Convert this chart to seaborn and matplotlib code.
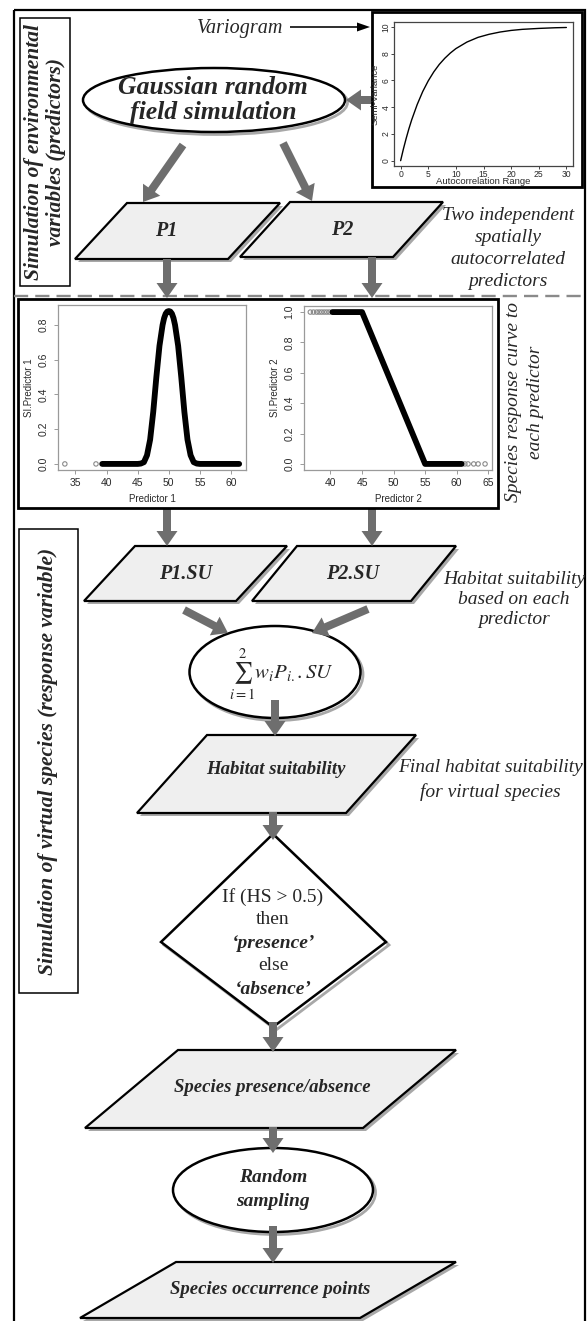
import matplotlib
matplotlib.use("Agg")
import matplotlib.pyplot as plt
import seaborn as sns
from matplotlib.patches import Polygon, Ellipse, Rectangle, FancyArrow

# ---------------- data ----------------
vario_range = [0, 0.5, 1, 1.5, 2, 3, 4, 5, 6, 7, 8, 9, 10, 12, 14, 16, 18, 20, 22, 25, 28, 30]
vario_semivar = [0, 0.87, 1.66, 2.39, 3.05, 4.2, 5.17, 5.97, 6.64, 7.2, 7.66, 8.05, 8.38,
                 8.87, 9.22, 9.45, 9.62, 9.74, 9.82, 9.89, 9.94, 9.96]
vario_xticks = [0, 5, 10, 15, 20, 25, 30]
vario_yticks = [0, 2, 4, 6, 8, 10]

pred1_x = [39.3, 40, 42, 44, 45, 45.5, 46, 46.5, 47, 47.5, 48, 48.5, 49, 49.25, 49.5, 49.75, 50,
           50.25, 50.5, 50.75, 51, 51.5, 52, 52.5, 53, 53.5, 54, 54.5, 55, 57, 59, 61.3]
pred1_si = [0, 0, 0, 0, 0, 0.002, 0.01, 0.05, 0.14, 0.3, 0.5, 0.68, 0.8, 0.84, 0.865, 0.877, 0.88,
            0.877, 0.865, 0.84, 0.8, 0.68, 0.5, 0.3, 0.14, 0.05, 0.01, 0.002, 0, 0, 0, 0]
pred1_out_x = [33.3, 38.3]
pred1_out_si = [0.0, 0.0]
pred1_xticks = [35, 40, 45, 50, 55, 60]
pred1_yticks = [0.0, 0.2, 0.4, 0.6, 0.8]

pred2_x = [40.3, 45.0, 55.0, 60.8]
pred2_si = [1.0, 1.0, 0.0, 0.0]
pred2_out_x = [36.8, 37.3, 37.8, 38.2, 38.6, 39.0, 39.4, 39.8, 61.3, 61.8, 62.7, 63.4, 64.5]
pred2_out_si = [1, 1, 1, 1, 1, 1, 1, 1, 0, 0, 0, 0, 0]
pred2_xticks = [40, 45, 50, 55, 60, 65]
pred2_yticks = [0.0, 0.2, 0.4, 0.6, 0.8, 1.0]

# ---------------- setup ----------------
sns.set_style("white")
plt.rcParams['font.family'] = ['Liberation Serif', 'DejaVu Serif']
plt.rcParams['mathtext.fontset'] = 'stix'

W, H = 588, 1321
fig = plt.figure(figsize=(W / 100, H / 100), dpi=100)
ax = fig.add_axes([0, 0, 1, 1])
ax.set_xlim(0, W)
ax.set_ylim(H, 0)
ax.axis('off')

SERIF = ['Liberation Serif', 'DejaVu Serif']
SANS = ['Liberation Sans', 'DejaVu Sans']
ARROW_C = '#6e6e6e'
FILL = '#efefef'


def rect_of(x0, y0, x1, y1):
    return [x0 / W, 1 - y1 / H, (x1 - x0) / W, (y1 - y0) / H]


def txt(x, y, s, size=14, weight='normal', style='normal', rot=0, **kw):
    ax.text(x, y, s, fontsize=size, fontweight=weight, fontstyle=style, rotation=rot,
            ha='center', va='center', family=SERIF, **kw)


def para(tl, tr, bl, top, bottom):
    br = bl + (tr - tl)
    pts = [(tl, top), (tr, top), (br, bottom), (bl, bottom)]
    sh = [(px + 3, py + 3) for px, py in pts]
    ax.add_patch(Polygon(sh, closed=True, facecolor='#a8a8a8', edgecolor='none', zorder=2))
    ax.add_patch(Polygon(pts, closed=True, facecolor=FILL, edgecolor='black', lw=1.6, zorder=3))


def ell(cx, cy, w, h):
    ax.add_patch(Ellipse((cx + 2.5, cy + 2.5), w, h, facecolor='none', edgecolor='#a8a8a8', lw=2.0, zorder=2))
    ax.add_patch(Ellipse((cx, cy), w, h, facecolor='white', edgecolor='black', lw=1.8, zorder=3))


def arrow(x0, y0, x1, y1, w=8, hw=21, hl=15, color=ARROW_C):
    ax.add_patch(FancyArrow(x0, y0, x1 - x0, y1 - y0, width=w, head_width=hw, head_length=hl,
                            length_includes_head=True, color=color, lw=0, zorder=5))


# ---------------- frames ----------------
ax.add_patch(Rectangle((14, 10), 571, 1330, fill=False, edgecolor='black', lw=1.6, zorder=1))
ax.add_patch(Rectangle((20, 18), 50, 268, fill=False, edgecolor='black', lw=1.1, zorder=1))
ax.add_patch(Rectangle((18.5, 529), 59.5, 464, fill=False, edgecolor='black', lw=1.1, zorder=1))
ax.add_patch(Rectangle((18, 299), 480, 209, fill=False, edgecolor='black', lw=2.0, zorder=6))
ax.add_patch(Rectangle((372, 12), 210, 175, fill=False, edgecolor='black', lw=2.0, zorder=6))
ax.plot([14, 585], [296, 296], color='#8a8a8a', lw=1.7, dashes=(6, 3), zorder=1)

# left rotated labels
txt(34, 152, 'Simulation of environmental', size=15.5, weight='bold', style='italic', rot=90)
txt(56, 152, 'variables (predictors)', size=15.5, weight='bold', style='italic', rot=90)
txt(48, 761, 'Simulation of virtual species (response variable)', size=15.5, weight='bold',
    style='italic', rot=90)

# ---------------- top section ----------------
txt(240, 28, 'Variogram', size=14.5, style='italic')
arrow(290, 27, 370, 27, w=1.6, hw=9, hl=13, color='black')

ell(214, 100, 262, 64)
txt(213, 87, 'Gaussian random', size=18.5, weight='bold', style='italic', zorder=7)
txt(213, 112, 'field simulation', size=18.5, weight='bold', style='italic', zorder=7)
arrow(373, 100, 346, 100)

arrow(183, 145, 143, 202)
arrow(283, 143, 312, 201)

para(127, 280, 75, 203, 259)
para(290, 443, 240, 202, 257)
txt(166, 231, 'P1', size=14.5, weight='bold', style='italic', zorder=7)
txt(342, 230, 'P2', size=14.5, weight='bold', style='italic', zorder=7)

for yy, s in zip([216, 238, 260, 281],
                 ['Two independent', 'spatially', 'autocorrelated', 'predictors']):
    txt(508, yy, s, size=14, style='italic')

arrow(167, 259, 167, 298)
arrow(372, 257, 372, 298)

# ---------------- response curves ----------------
txt(513, 402, 'Species response curve to', size=14, style='italic', rot=90)
txt(536, 402, 'each predictor', size=14, style='italic', rot=90)


def style_inset(a, xlim, ylim, xticks, yticks, xlabel, ylabel, yfmt, frame_c,
                lsize=7.5, tlen=3, xpad=3, ypad=4, xlp=4, ylp=3, axsize=7):
    a.set_xlim(*xlim)
    a.set_ylim(*ylim)
    a.set_xticks(xticks)
    a.set_yticks(yticks)
    a.set_xticklabels([str(t) for t in xticks])
    a.set_yticklabels([yfmt.format(t) for t in yticks], rotation=90, va='center')
    for s in a.spines.values():
        s.set_visible(True)
        s.set_color(frame_c)
        s.set_linewidth(0.9)
    a.tick_params(axis='both', direction='out', length=tlen, width=0.7, color=frame_c,
                  labelsize=lsize, labelcolor='#2a2a2a', bottom=True, left=True)
    a.tick_params(axis='x', pad=xpad)
    a.tick_params(axis='y', pad=ypad)
    for lbl in a.get_xticklabels() + a.get_yticklabels():
        lbl.set_family(SANS)
    a.set_xlabel(xlabel, fontsize=axsize, family=SANS, color='#2a2a2a', labelpad=xlp)
    a.set_ylabel(ylabel, fontsize=axsize, family=SANS, color='#2a2a2a', labelpad=ylp)
    a.set_facecolor('white')
    a.grid(False)


# variogram
VX0, VY0, VX1, VY1 = 394, 22, 573, 166
axv = fig.add_axes(rect_of(VX0, VY0, VX1, VY1))
sns.lineplot(x=vario_range, y=vario_semivar, ax=axv, color='black', lw=1.0)
style_inset(axv, (-1.2, 31.2), (-0.4, 10.37), vario_xticks, vario_yticks,
            'Autocorrelation Range', 'Semi-Variance', '{:d}', '#444444',
            lsize=6.2, tlen=2, xpad=0.6, ypad=0.6, xlp=0, ylp=0, axsize=6.8)
axv.xaxis.set_label_coords(0.5, -(177.5 - VY1) / (VY1 - VY0))
axv.yaxis.set_label_coords(-(VX0 - 379.5) / (VX1 - VX0), 0.5)

# predictor 1
ax1 = fig.add_axes(rect_of(58, 305, 246, 470))
sns.lineplot(x=pred1_x, y=pred1_si, ax=ax1, color='black', lw=4.2, solid_capstyle='round')
sns.scatterplot(x=pred1_out_x, y=pred1_out_si, ax=ax1, marker='o', s=10, facecolor='none',
                edgecolor='#8a8a8a', linewidth=0.8)
style_inset(ax1, (32.2, 62.4), (-0.035, 0.915), pred1_xticks, pred1_yticks,
            'Predictor 1', 'SI.Predictor 1', '{:.1f}', '#9a9a9a')

# predictor 2
ax2 = fig.add_axes(rect_of(304, 306, 492, 470))
sns.lineplot(x=pred2_x, y=pred2_si, ax=ax2, color='black', lw=4.2, solid_capstyle='round')
sns.scatterplot(x=pred2_out_x, y=pred2_out_si, ax=ax2, marker='o', s=10, facecolor='none',
                edgecolor='#8a8a8a', linewidth=0.8)
style_inset(ax2, (35.8, 65.6), (-0.04, 1.04), pred2_xticks, pred2_yticks,
            'Predictor 2', 'SI.Predictor 2', '{:.1f}', '#9a9a9a')

# ---------------- response section ----------------
arrow(167, 508, 167, 546)
arrow(372, 508, 372, 546)

para(135, 287, 84, 546, 601)
para(297, 456, 252, 546, 601)
txt(186, 574, 'P1.SU', size=14.5, weight='bold', style='italic', zorder=7)
txt(353, 574, 'P2.SU', size=14.5, weight='bold', style='italic', zorder=7)
for yy, s in zip([579, 600, 620], ['Habitat suitability', 'based on each', 'predictor']):
    txt(514, yy, s, size=14, style='italic')

arrow(184, 610, 228, 633)
arrow(368, 609, 312, 633)

ell(275, 672, 171, 92)
txt(281, 674, r'$\sum_{i=1}^{2} w_i P_{i.}.SU$', size=15, zorder=7)

arrow(275, 700, 275, 736)
para(207, 416, 137, 735, 813)
txt(276, 770, 'Habitat suitability', size=13.5, weight='bold', style='italic', zorder=7)
txt(490, 768, 'Final habitat suitability', size=14, style='italic')
txt(490, 792, 'for virtual species', size=14, style='italic')

arrow(273, 812, 273, 840)
dia = [(273, 834), (386, 942), (273, 1027), (161, 942)]
ax.add_patch(Polygon([(px + 3, py + 3) for px, py in dia], closed=True, facecolor='none',
                     edgecolor='#a8a8a8', lw=2.0, zorder=2))
ax.add_patch(Polygon(dia, closed=True, facecolor='white', edgecolor='black', lw=1.8, zorder=3))
txt(273, 897, 'If (HS > 0.5)', size=14, zorder=7)
txt(273, 920, 'then', size=14, zorder=7)
txt(273, 943, '\u2018presence\u2019', size=14, weight='bold', style='italic', zorder=7)
txt(273, 966, 'else', size=14, zorder=7)
txt(273, 989, '\u2018absence\u2019', size=14, weight='bold', style='italic', zorder=7)

arrow(273, 1022, 273, 1052)
para(178, 456, 85, 1050, 1128)
txt(272, 1088, 'Species presence/absence', size=13.5, weight='bold', style='italic', zorder=7)

arrow(273, 1127, 273, 1153)
ell(273, 1190, 200, 84)
txt(273, 1178, 'Random', size=14, weight='bold', style='italic', zorder=7)
txt(273, 1202, 'sampling', size=14, weight='bold', style='italic', zorder=7)

arrow(273, 1226, 273, 1263)
para(176, 456, 80, 1262, 1318)
txt(270, 1290, 'Species occurrence points', size=13.5, weight='bold', style='italic', zorder=7)

fig.savefig('out.png', dpi=100)
